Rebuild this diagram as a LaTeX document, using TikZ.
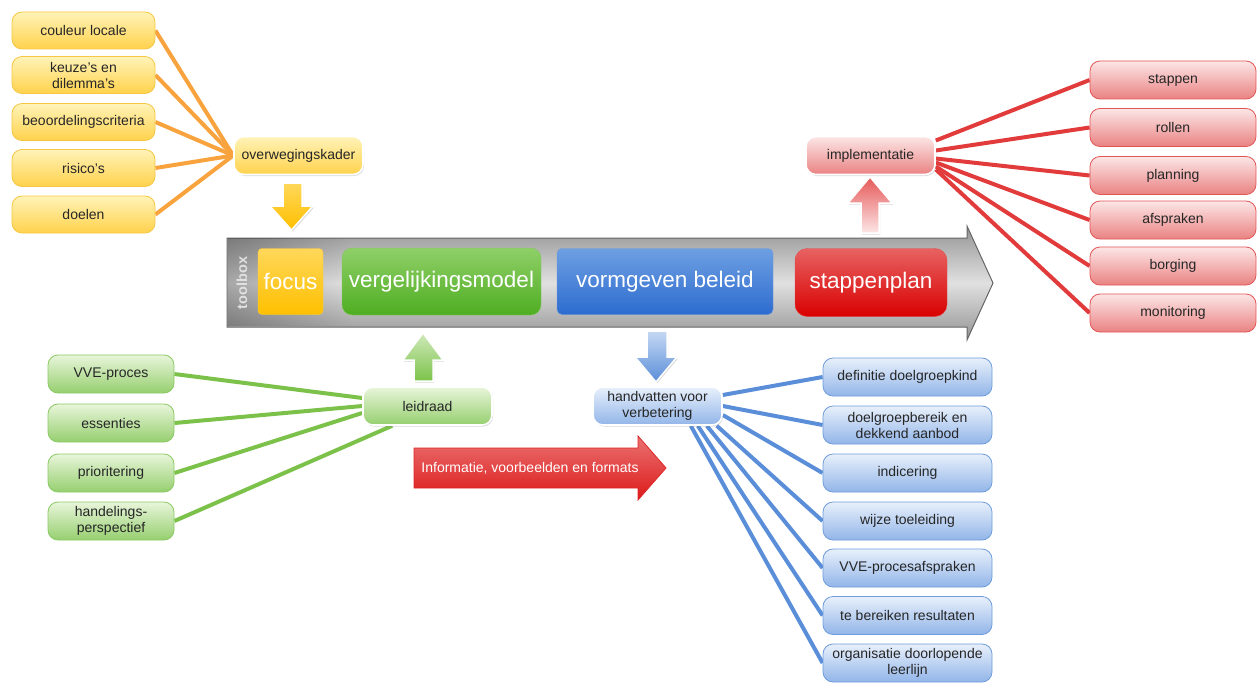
\documentclass[tikz,border=0pt]{standalone}
\usepackage{fontspec}
\setmainfont{Liberation Sans}
\usetikzlibrary{shadows,backgrounds,fadings}
\definecolor{orline}{HTML}{F8A33E}
\definecolor{orlight}{HTML}{FFF3B8}
\definecolor{ordark}{HTML}{FFD24C}
\definecolor{orborder}{HTML}{F5C745}
\definecolor{grline}{HTML}{7CC24A}
\definecolor{grlight}{HTML}{E8F5DA}
\definecolor{grdark}{HTML}{96CF6F}
\definecolor{grborder}{HTML}{8ACA62}
\definecolor{blline}{HTML}{5A8ED8}
\definecolor{bllight}{HTML}{E8F0FB}
\definecolor{bldark}{HTML}{92B5E8}
\definecolor{blborder}{HTML}{6D9CDB}
\definecolor{rdline}{HTML}{E23B3B}
\definecolor{rdlight}{HTML}{FCE6E6}
\definecolor{rddark}{HTML}{EA8282}
\definecolor{rdborder}{HTML}{E25555}
\definecolor{fctop}{HTML}{FFD75A}
\definecolor{fcbot}{HTML}{FFC000}
\definecolor{vgtop}{HTML}{8FCF68}
\definecolor{vgbot}{HTML}{4FAE22}
\definecolor{vbtop}{HTML}{6E9FE2}
\definecolor{vbbot}{HTML}{2C6CCF}
\definecolor{sptop}{HTML}{E86262}
\definecolor{spbot}{HTML}{D90000}
\tikzfading[name=fadeleft, left color=transparent!0, right color=transparent!100]
\tikzset{
  leaf/.style={draw, line width=0.8pt, rounded corners=10pt, minimum height=37pt,
    inner sep=0pt, align=center, text=black!85, font=\fontsize{14}{16}\selectfont},
  orleaf/.style={leaf, draw=orborder, top color=orlight, bottom color=ordark, minimum width=143pt},
  grleaf/.style={leaf, draw=grborder, top color=grlight, bottom color=grdark, minimum width=126pt, minimum height=38pt},
  blleaf/.style={leaf, draw=blborder, top color=bllight, bottom color=bldark, minimum width=169pt, minimum height=38pt},
  rdleaf/.style={leaf, draw=rdborder, top color=rdlight, bottom color=rddark, minimum width=166pt, minimum height=38pt},
  hub/.style={draw=white, line width=1.6pt, minimum width=129pt, minimum height=38pt,
    drop shadow={opacity=0.3, shadow xshift=1pt, shadow yshift=-1.5pt}},
  tool/.style={rounded corners=#1, minimum height=66pt, inner sep=0pt, text=white,
    font=\fontsize{22.5}{25}\selectfont},
  blockarrow/.style={draw=white, line width=1.5pt, line join=miter,
    drop shadow={opacity=0.3, shadow xshift=1pt, shadow yshift=-1.5pt}},
  link/.style={line width=4pt}
}
\begin{document}
\begin{tikzpicture}[x=1pt,y=-1pt]
\useasboundingbox (0,0) rectangle (1257,682);
\draw [draw=black!60, line width=1pt, top color=black!42, bottom color=black!42, middle color=black!12]
  (227,238) -- (967,238) -- (967,226) -- (993,283) -- (967,340) -- (967,327) -- (227,327) -- cycle;
\fill [black, opacity=0.25, path fading=fadeleft] (227.5,238.5) rectangle (350,326.5);
\node [rotate=90, text=white!88!black, font=\bfseries\fontsize{14.5}{15}\selectfont] (tb) at (242,283) {toolbox};
\node [tool=4pt, draw=fcbot!80!white, top color=fctop, bottom color=fcbot, minimum width=65pt] (fc) at (290.5,281.5) {focus};
\node [tool=10pt, draw=vgbot!70!white, top color=vgtop, bottom color=vgbot, minimum width=199pt, minimum height=67pt] (vg) at (441.5,281.5) {vergelijkingsmodel};
\node [tool=5pt, draw=vbbot!70!white, top color=vbtop, bottom color=vbbot, minimum width=216pt] (vb) at (665,281.5) {vormgeven beleid};
\node [tool=12pt, draw=spbot!70!white, top color=sptop, bottom color=spbot, minimum width=152pt, minimum height=68pt] (sp) at (871,282.5) {stappenplan};

\node [orleaf] (cl) at (83.5,30.5) {couleur locale};
\node [orleaf] (kd) at (83.5,75) {keuze's en\\dilemma's};
\node [orleaf] (bc) at (83.5,122) {beoordelingscriteria};
\node [orleaf] (rs) at (83.5,168) {risico's};
\node [orleaf] (dl) at (83.5,214.5) {doelen};
\node [orleaf, hub] (ow) at (298.5,155.5) {overwegingskader};

\node [grleaf] (vp) at (111,374) {VVE-proces};
\node [grleaf] (es) at (111,423) {essenties};
\node [grleaf] (pr) at (111,473) {prioritering};
\node [grleaf] (hp) at (111,521) {handelings-\\perspectief};
\node [grleaf, hub] (ld) at (427.5,406) {leidraad};

\node [blleaf] (dd) at (907.5,377) {definitie doelgroepkind};
\node [blleaf] (db) at (907.5,425) {doelgroepbereik en\\dekkend aanbod};
\node [blleaf] (ic) at (907.5,473) {indicering};
\node [blleaf] (wt) at (907.5,521) {wijze toeleiding};
\node [blleaf] (va) at (907.5,568) {VVE-procesafspraken};
\node [blleaf] (tr) at (907.5,615.5) {te bereiken resultaten};
\node [blleaf] (ol) at (907.5,663) {organisatie doorlopende\\leerlijn};
\node [blleaf, hub] (hv) at (657.5,406) {handvatten voor\\verbetering};

\node [rdleaf] (st) at (1173,80) {stappen};
\node [rdleaf] (ro) at (1173,127.5) {rollen};
\node [rdleaf] (pl) at (1173,175.5) {planning};
\node [rdleaf] (af) at (1173,220) {afspraken};
\node [rdleaf] (bo) at (1173,266) {borging};
\node [rdleaf] (mo) at (1173,313) {monitoring};
\node [rdleaf, hub] (im) at (870.5,155.5) {implementatie};

\begin{scope}[on background layer]
\draw [link, orline] (cl.east) -- (ow.west);
\draw [link, orline] (kd.east) -- (ow.west);
\draw [link, orline] (bc.east) -- (ow.west);
\draw [link, orline] (rs.east) -- (ow.west);
\draw [link, orline] (dl.east) -- (ow.west);
\draw [link, grline] (vp.east) -- ([yshift=8pt]ld.west);
\draw [link, grline] (es.east) -- (ld.west);
\draw [link, grline] (pr.east) -- ([yshift=-7pt]ld.west);
\draw [link, grline] (hp.east) -- ([xshift=30pt]ld.south west);
\draw [link, blline] (dd.west) -- ([yshift=11pt]hv.east);
\draw [link, blline] (db.west) -- (hv.east);
\draw [link, blline] (ic.west) -- ([yshift=-9pt]hv.east);
\draw [link, blline] (wt.west) -- ([xshift=-6pt]hv.south east);
\draw [link, blline] (va.west) -- ([xshift=-16pt]hv.south east);
\draw [link, blline] (tr.west) -- ([xshift=-25pt]hv.south east);
\draw [link, blline] (ol.west) -- ([xshift=-32pt]hv.south east);
\draw [link, rdline] (st.west) -- ([yshift=15pt]im.east);
\draw [link, rdline] (ro.west) -- ([yshift=5pt]im.east);
\draw [link, rdline] (pl.west) -- ([yshift=-3pt]im.east);
\draw [link, rdline] (af.west) -- ([yshift=-7pt]im.east);
\draw [link, rdline] (bo.west) -- ([yshift=-11pt]im.east);
\draw [link, rdline] (mo.west) -- ([yshift=-14pt]im.east);
\end{scope}

\draw [blockarrow, top color=fctop, bottom color=fcbot]
  (283,183) -- (302,183) -- (302,206) -- (313,206) -- (291.5,230) -- (270,206) -- (283,206) -- cycle;
\draw [blockarrow, top color=grlight!70!grdark, bottom color=grline]
  (423,333) -- (443,360) -- (433,360) -- (433,381) -- (414,381) -- (414,360) -- (403,360) -- cycle;
\draw [blockarrow, top color=bllight!60!bldark, bottom color=blline]
  (647,331) -- (667,331) -- (667,357) -- (677,357) -- (656,382) -- (635,357) -- (647,357) -- cycle;
\draw [blockarrow, top color=rdline!85, bottom color=rdlight]
  (870,177) -- (892,203) -- (879,203) -- (879,233) -- (861,233) -- (861,203) -- (848,203) -- cycle;

\draw [draw=spbot!85!white, line width=0.8pt, top color=sptop!90!white, bottom color=spbot!90!white]
  (414,448) -- (638,448) -- (638,436) -- (666,468) -- (638,500) -- (638,488) -- (414,488) -- cycle;
\node [text=white, font=\fontsize{14}{16}\selectfont] (info) at (530,468) {Informatie, voorbeelden en formats};
\end{tikzpicture}
\end{document}
